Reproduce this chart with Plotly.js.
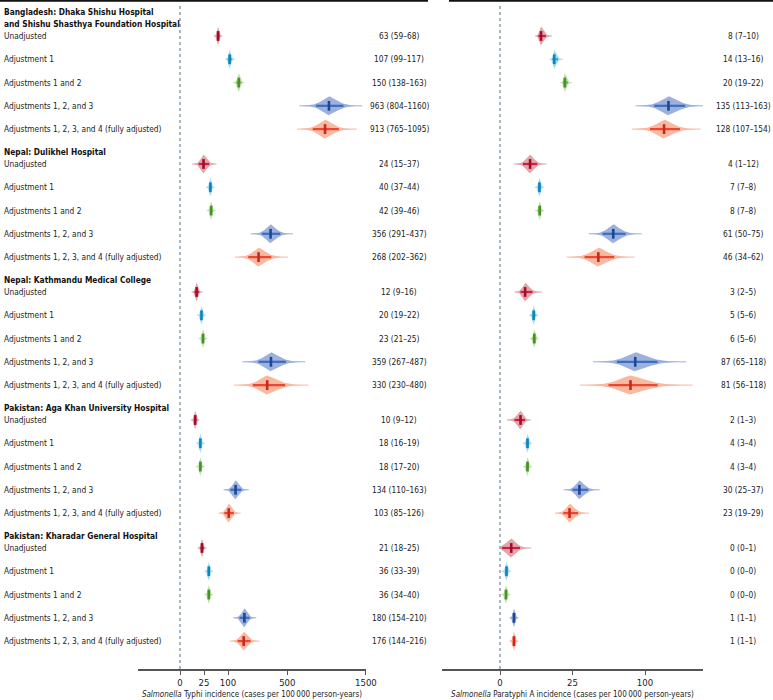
<!DOCTYPE html>
<html>
<head>
<meta charset="utf-8">
<script src="https://cdn.plot.ly/plotly-3.0.1.min.js"></script>
<style>html,body{margin:0;padding:0;background:#fff;}#chart{width:773px;height:700px;}</style>
</head>
<body>
<div id="chart"></div>
<script>
// ---------- data ----------
const sites = [
  ["Bangladesh: Dhaka Shishu Hospital", "and Shishu Shasthya Foundation Hospital"],
  ["Nepal: Dulikhel Hospital"],
  ["Nepal: Kathmandu Medical College"],
  ["Pakistan: Aga Khan University Hospital"],
  ["Pakistan: Kharadar General Hospital"]
];
const adjustments = ["Unadjusted", "Adjustment 1", "Adjustments 1 and 2",
  "Adjustments 1, 2, and 3", "Adjustments 1, 2, 3, and 4 (fully adjusted)"];

// Salmonella Typhi (per 100 000 person-years)
const typhiEst = [63, 107, 150, 963, 913,  24, 40, 42, 356, 268,  12, 20, 23, 359, 330,  10, 18, 18, 134, 103,  21, 36, 36, 180, 176];
const typhiLo  = [59,  99, 138, 804, 765,  15, 37, 39, 291, 202,   9, 19, 21, 267, 230,   9, 16, 17, 110,  85,  18, 33, 34, 154, 144];
const typhiHi  = [68, 117, 163, 1160, 1095, 37, 44, 46, 437, 362,  16, 22, 25, 487, 480,  12, 19, 20, 163, 126,  25, 39, 40, 210, 216];
const typhiText = ["63 (59–68)", "107 (99–117)", "150 (138–163)", "963 (804–1160)", "913 (765–1095)",
  "24 (15–37)", "40 (37–44)", "42 (39–46)", "356 (291–437)", "268 (202–362)",
  "12 (9–16)", "20 (19–22)", "23 (21–25)", "359 (267–487)", "330 (230–480)",
  "10 (9–12)", "18 (16–19)", "18 (17–20)", "134 (110–163)", "103 (85–126)",
  "21 (18–25)", "36 (33–39)", "36 (34–40)", "180 (154–210)", "176 (144–216)"];

// Salmonella Paratyphi A (per 100 000 person-years)
const paraEst = [8, 14, 20, 135, 128,  4.3, 7.4, 7.5, 61, 46,  3, 5.4, 5.6, 87, 81,  2, 3.6, 3.6, 30, 23,  0.6, 0.2, 0.17, 0.93, 0.93];
const paraLo  = [7, 13, 19, 113, 107,  2.5, 7, 7, 50, 34,      2, 5, 5, 65, 56,      1, 3.2, 3.2, 25, 19,  0.02, 0.15, 0.12, 0.8, 0.8];
const paraHi  = [10, 16, 22, 163, 154, 6.6, 8, 8, 75, 62,      5, 6, 6, 118, 118,    3, 4, 4, 37, 29,      1.9, 0.28, 0.24, 1.1, 1.1];
const paraText = ["8 (7–10)", "14 (13–16)", "20 (19–22)", "135 (113–163)", "128 (107–154)",
  "4 (1–12)", "7 (7–8)", "8 (7–8)", "61 (50–75)", "46 (34–62)",
  "3 (2–5)", "5 (5–6)", "6 (5–6)", "87 (65–118)", "81 (56–118)",
  "2 (1–3)", "4 (3–4)", "4 (3–4)", "30 (25–37)", "23 (19–29)",
  "0 (0–1)", "0 (0–0)", "0 (0–0)", "1 (1–1)", "1 (1–1)"];

const typhiTicks = [0, 25, 100, 500, 1500];
const paraTicks = [0, 25, 100];

// ---------- styling ----------
const fillColors = ['#e2a6aa', '#a6daf0', '#bfe0ab', '#9eb0dc', '#f9b8a0'];
const barColors  = ['#c9213f', '#27a5da', '#69b343', '#3b6dc1', '#ec4731'];
const markColors = ['#a20c2c', '#0a86bc', '#47912a', '#1b4893', '#d1241a'];
const FONT = "'DejaVu Sans Condensed', 'Liberation Sans Narrow', Roboto, sans-serif";
const FS = 8.3;
const TXT = '#222';
const HALF = 0.41;      // max half-height of each violin, in row units

const rowY = (g, r) => g * 5.5 + r;

function buildTraces(est, lo, hi, xa, minSig) {
  const traces = [];
  for (let c = 0; c < 5; c++) {
    const fx = [], fy = [], tx = [], ty = [], bx = [], by = [], mx = [], my = [];
    for (let g = 0; g < 5; g++) {
      const i = g * 5 + c, y = rowY(g, c);
      const s = Math.sqrt(est[i]), sl = Math.sqrt(Math.max(lo[i], 0)), sh = Math.sqrt(hi[i]);
      let sL = (s - sl) / 1.96, sR = (sh - s) / 1.96;
      const m = Math.max(sL, sR);
      sL = Math.max(sL, 0.35 * m, minSig); sR = Math.max(sR, 0.35 * m, minSig);
      const up = [], upy = [];
      for (let k = -60; k <= 60; k++) {
        const z = k / 15;
        const x = Math.max(0, s + z * (z < 0 ? sL : sR));
        const h = HALF * Math.exp(-Math.pow(Math.abs(z) / 1.5, 1.5));
        up.push(x); upy.push(h);
      }
      for (let k = 0; k < up.length; k++) { fx.push(up[k]); fy.push(y - upy[k]); }
      for (let k = up.length - 1; k >= 0; k--) { fx.push(up[k]); fy.push(y + upy[k]); }
      fx.push(null); fy.push(null);
      tx.push(Math.max(0, s - 4.5 * sL), s + 4.5 * sR, null); ty.push(y, y, null);
      bx.push(sl, sh, null); by.push(y, y, null);
      mx.push(s); my.push(y);
    }
    traces.push({type: 'scatter', mode: 'lines', x: fx, y: fy, xaxis: xa, yaxis: 'y',
      fill: 'toself', fillcolor: fillColors[c], line: {width: 0, color: fillColors[c]},
      hoverinfo: 'skip', showlegend: false});
    traces.push({type: 'scatter', mode: 'lines', x: tx, y: ty, xaxis: xa, yaxis: 'y',
      line: {width: 1, color: fillColors[c]}, hoverinfo: 'skip', showlegend: false});
    traces.push({type: 'scatter', mode: 'lines', x: bx, y: by, xaxis: xa, yaxis: 'y',
      line: {width: 2.2, color: barColors[c]}, hoverinfo: 'skip', showlegend: false});
    traces.push({type: 'scatter', mode: 'markers', x: mx, y: my, xaxis: xa, yaxis: 'y',
      marker: {symbol: 'line-ns-open', size: 7, color: markColors[c], line: {width: 2.6, color: markColors[c]}},
      hoverinfo: 'skip', showlegend: false});
  }
  return traces;
}

const data = [].concat(buildTraces(typhiEst, typhiLo, typhiHi, 'x', 0.2),
                       buildTraces(paraEst, paraLo, paraHi, 'x2', 0.07));

// ---------- annotations ----------
const W = 773;
const ann = [];
sites.forEach((lines, g) => {
  const base = rowY(g, 0) - 0.516;
  lines.slice().reverse().forEach((t, j) => {
    ann.push({xref: 'paper', yref: 'y', x: 2 / W, y: base - j * 0.516, xanchor: 'left', yanchor: 'middle',
      text: '<b>' + t + '</b>', showarrow: false, font: {family: FONT, size: FS, color: '#111'}});
  });
  adjustments.forEach((a, r) => {
    ann.push({xref: 'paper', yref: 'y', x: 2 / W, y: rowY(g, r), xanchor: 'left', yanchor: 'middle',
      text: a, showarrow: false, font: {family: FONT, size: FS, color: TXT}});
    const i = g * 5 + r;
    ann.push({xref: 'paper', yref: 'y', x: 399 / W, y: rowY(g, r), xanchor: 'center', yanchor: 'middle',
      text: typhiText[i], showarrow: false, font: {family: FONT, size: FS, color: TXT}});
    ann.push({xref: 'paper', yref: 'y', x: 743 / W, y: rowY(g, r), xanchor: 'center', yanchor: 'middle',
      text: paraText[i], showarrow: false, font: {family: FONT, size: FS, color: TXT}});
  });
});

const PH = 669;
const shapes = [
  {type: 'line', xref: 'x', yref: 'paper', x0: 0, x1: 0, y0: 0, y1: 1 - 4 / PH, line: {color: '#8a9eaa', width: 1.5, dash: 'dot'}},
  {type: 'line', xref: 'x2', yref: 'paper', x0: 0, x1: 0, y0: 0, y1: 1 - 4 / PH, line: {color: '#8a9eaa', width: 1.5, dash: 'dot'}},
  {type: 'line', xref: 'paper', yref: 'paper', x0: 0, x1: 428 / W, y0: 1 - 0.8 / PH, y1: 1 - 0.8 / PH, line: {color: '#111', width: 2}},
  {type: 'line', xref: 'paper', yref: 'paper', x0: 449 / W, x1: 1, y0: 1 - 0.8 / PH, y1: 1 - 0.8 / PH, line: {color: '#111', width: 2}}
];

const axisCommon = {
  showline: true, linecolor: '#555', linewidth: 1.5, ticks: 'outside', ticklen: 4, tickcolor: '#555',
  tickwidth: 1, showgrid: false, zeroline: false, fixedrange: true, anchor: 'y',
  tickfont: {family: FONT, size: 9.5, color: TXT}
};

const layout = {
  width: 773, height: 700,
  margin: {l: 0, r: 0, t: 0, b: 31, pad: 0},
  paper_bgcolor: '#fff', plot_bgcolor: '#fff',
  font: {family: FONT, size: FS, color: TXT},
  xaxis: Object.assign({}, axisCommon, {
    domain: [138 / W, 366 / W], range: [-8.75, 38.75],
    tickvals: typhiTicks.map(Math.sqrt), ticktext: typhiTicks.map(String),
    title: {text: '<i>Salmonella</i> Typhi incidence (cases per 100\u2009000 person-years)',
      font: {family: FONT, size: 8, color: TXT}, standoff: 4}
  }),
  xaxis2: Object.assign({}, axisCommon, {
    domain: [442 / W, 703 / W], range: [-4, 14],
    tickvals: paraTicks.map(Math.sqrt), ticktext: paraTicks.map(String),
    title: {text: '<i>Salmonella</i> Paratyphi A incidence (cases per 100\u2009000 person-years)',
      font: {family: FONT, size: 8, color: TXT}, standoff: 4}
  }),
  yaxis: {range: [27.2, -1.547], visible: false, fixedrange: true, domain: [0, 1]},
  annotations: ann,
  shapes: shapes,
  hovermode: false
};

Plotly.newPlot('chart', data, layout, {displayModeBar: false, staticPlot: true});
</script>
</body>
</html>
